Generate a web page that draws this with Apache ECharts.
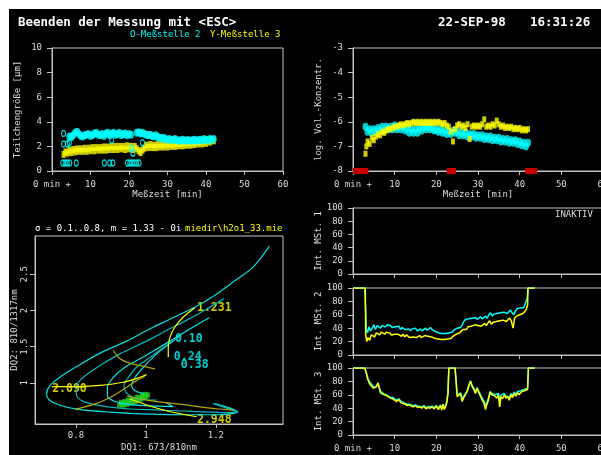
<!DOCTYPE html>
<html><head><meta charset="utf-8">
<script src="https://cdn.jsdelivr.net/npm/echarts@6/dist/echarts.min.js"></script>
<style>
html,body{margin:0;padding:0;background:#fff;}
#c{width:601px;height:455px;background:linear-gradient(#fff,#fff) top left/100% 9px no-repeat,linear-gradient(#fff,#fff) top left/9px 100% no-repeat,#000;}
</style></head><body><div id="c"></div>
<script>
// ---------- data ----------
const timeTicks = [0, 10, 20, 30, 40, 50, 60];
const tlCyan = [[4.5,2.8],[5,2.75],[5.5,2.9],[6,3.1],[6.5,3.2],[7,3.0],[7.5,2.85],[8,2.8],[8.5,2.9],[9,2.95],[9.5,3.0],[10,2.85],[10.5,2.9],[11,3.05],[11.5,3.1],[12,2.95],[12.5,2.9],[13,3.0],[13.5,2.85],[14,3.05],[14.5,3.1],[15,2.9],[15.5,3.05],[16,3.1],[16.5,2.95],[17,3.0],[17.5,3.1],[18,2.9],[18.5,3.0],[19,3.05],[19.5,2.9],[20,3.0],[20.5,2.95],[22,3.1],[22.5,3.15],[23,3.05],[23.5,3.1],[24,3.0],[24.5,2.95],[25,2.9],[25.5,2.95],[26,2.85],[26.5,2.8],[27,2.9],[27.5,2.75],[28,2.7],[28.5,2.65],[29,2.7],[29.5,2.6],[30,2.55],[30.5,2.6],[31,2.5],[31.5,2.55],[32,2.6],[32.5,2.5],[33,2.45],[33.5,2.5],[34,2.55],[34.5,2.45],[35,2.5],[35.5,2.5],[36,2.45],[36.5,2.5],[37,2.55],[37.5,2.45],[38,2.5],[38.5,2.55],[39,2.5],[39.5,2.6],[40,2.55],[40.5,2.5],[41,2.6],[41.5,2.55],[42,2.6]];
const tlCyanIso = [[3,3.05],[3,2.2],[4,2.2],[4.5,2.3],[15.5,2.5],[23.5,2.3],[21,1.45],[20.7,1.85],[2.8,0.65],[3.4,0.65],[4,0.65],[4.6,0.65],[6.3,0.65],[13.6,0.65],[15,0.65],[15.8,0.65],[19.6,0.65],[20.2,0.65],[20.8,0.65],[21.4,0.65],[22,0.65],[22.6,0.65]];
const tlYellow = [[3,1.35],[3.5,1.55],[4,1.45],[4.5,1.7],[5,1.5],[5.5,1.75],[6,1.55],[6.5,1.8],[7,1.6],[7.5,1.8],[8,1.6],[8.5,1.85],[9,1.6],[9.5,1.85],[10,1.65],[10.5,1.9],[11,1.65],[11.5,1.9],[12,1.7],[12.5,1.9],[13,1.7],[13.5,1.95],[14,1.7],[14.5,1.95],[15,1.75],[15.5,2.0],[16,1.75],[16.5,2.0],[17,1.75],[17.5,2.0],[18,1.8],[18.5,2.0],[19,1.75],[19.5,2.05],[20,1.8],[20.5,2.0],[21,1.75],[21.5,2.0],[22,1.8],[22.5,1.65],[23,1.5],[23.5,1.7],[24,1.85],[24.5,2.1],[25,1.9],[25.5,2.15],[26,1.9],[26.5,2.1],[27,1.9],[27.5,2.15],[28,1.95],[28.5,2.15],[29,1.95],[29.5,2.2],[30,1.95],[30.5,2.2],[31,2.0],[31.5,2.2],[32,2.0],[32.5,2.25],[33,2.05],[33.5,2.25],[34,2.05],[34.5,2.3],[35,2.1],[35.5,2.3],[36,2.1],[36.5,2.35],[37,2.15],[37.5,2.35],[38,2.2],[38.5,2.4],[39,2.2],[39.5,2.45],[40,2.25],[40.5,2.5],[41,2.35],[41.5,2.55],[42,2.45]];
const trCyan = [[3,-6.2],[3.5,-6.4],[4,-6.3],[4.5,-6.45],[5,-6.3],[5.5,-6.4],[6,-6.25],[6.5,-6.35],[7,-6.2],[7.5,-6.35],[8,-6.2],[8.5,-6.3],[9,-6.2],[9.5,-6.3],[10,-6.15],[10.5,-6.3],[11,-6.2],[11.5,-6.3],[12,-6.2],[12.5,-6.35],[13,-6.25],[13.5,-6.45],[14,-6.3],[14.5,-6.45],[15,-6.3],[15.5,-6.45],[16,-6.25],[16.5,-6.35],[17,-6.2],[17.5,-6.3],[18,-6.2],[18.5,-6.3],[19,-6.25],[19.5,-6.35],[20,-6.3],[20.5,-6.4],[21,-6.3],[21.5,-6.45],[22,-6.35],[22.5,-6.5],[23,-6.4],[23.5,-6.5],[24,-6.35],[24.5,-6.45],[25,-6.4],[25.5,-6.55],[26,-6.45],[26.5,-6.55],[27,-6.45],[27.5,-6.6],[28,-6.5],[28.5,-6.6],[29,-6.5],[29.5,-6.65],[30,-6.55],[30.5,-6.65],[31,-6.55],[31.5,-6.7],[32,-6.6],[32.5,-6.7],[33,-6.6],[33.5,-6.75],[34,-6.65],[34.5,-6.75],[35,-6.65],[35.5,-6.8],[36,-6.7],[36.5,-6.8],[37,-6.7],[37.5,-6.85],[38,-6.75],[38.5,-6.85],[39,-6.75],[39.5,-6.9],[40,-6.8],[40.5,-6.95],[41,-6.85],[41.5,-7.0],[42,-6.85]];
const trYellow = [[3,-7.3],[3.2,-7.0],[3.5,-6.8],[4,-6.9],[4.5,-6.65],[5,-6.75],[5.5,-6.6],[6,-6.5],[6.5,-6.55],[7,-6.4],[7.5,-6.45],[8,-6.35],[8.5,-6.3],[9,-6.3],[9.5,-6.25],[10,-6.2],[10.5,-6.2],[11,-6.15],[11.5,-6.1],[12,-6.15],[12.5,-6.1],[13,-6.05],[13.5,-6.1],[14,-6.05],[14.5,-6.0],[15,-6.05],[15.5,-6.0],[16,-6.05],[16.5,-6.0],[17,-6.05],[17.5,-6.0],[18,-6.05],[18.5,-6.0],[19,-6.05],[19.5,-6.0],[20,-6.05],[20.5,-6.0],[21,-6.05],[21.5,-6.1],[22,-6.05],[22.5,-6.15],[23,-6.2],[23.5,-6.4],[24,-6.8],[24.5,-6.3],[25,-6.15],[25.5,-6.1],[26,-6.2],[26.5,-6.15],[27,-6.25],[27.5,-6.1],[28,-6.7],[28.5,-6.2],[29,-6.15],[29.5,-6.2],[30,-6.15],[30.5,-6.2],[31,-6.1],[31.5,-5.9],[32,-6.2],[32.5,-6.15],[33,-6.2],[33.5,-6.1],[34,-6.15],[34.5,-5.95],[35,-6.1],[35.5,-6.2],[36,-6.15],[36.5,-6.25],[37,-6.2],[37.5,-6.25],[38,-6.2],[38.5,-6.3],[39,-6.25],[39.5,-6.3],[40,-6.25],[40.5,-6.35],[41,-6.3],[41.5,-6.35],[42,-6.3]];
const redSegments = [[0,3.7],[22.5,24.7],[41.3,44.2]];
const mst2Cyan = [[0,100],[2.8,100],[3.0,72],[3.2,38],[3.5,33],[3.8,42],[4.2,36],[4.6,40],[5,45],[5.4,38],[5.8,44],[6.2,46],[6.6,40],[7,44],[7.4,45],[7.8,42],[8.2,45],[8.6,43],[9,44],[9.4,41],[9.8,43],[10.2,42],[10.6,40],[11,43],[11.4,38],[11.8,41],[12.2,42],[12.6,38],[13,40],[13.4,39],[13.8,36],[14.2,39],[14.6,37],[15,40],[15.4,36],[15.8,38],[16.2,39],[16.6,36],[17,38],[17.4,40],[17.8,37],[18.2,39],[18.6,41],[19,38],[19.4,37],[19.8,35],[20.2,36],[20.6,33],[21,31],[21.4,32],[21.8,30],[22.2,32],[22.6,31],[23,33],[23.4,35],[23.8,34],[24.2,37],[24.6,38],[25,40],[25.4,42],[25.8,41],[26.2,45],[26.6,50],[27,53],[27.4,51],[27.8,54],[28.2,52],[28.6,55],[29,54],[29.4,56],[29.8,53],[30.2,55],[30.6,57],[31,54],[31.4,56],[31.8,58],[32.2,55],[32.6,60],[33,63],[33.4,58],[33.8,61],[34.2,59],[34.6,62],[35,60],[35.4,63],[35.8,61],[36.2,64],[36.6,66],[37,62],[37.4,64],[37.8,67],[38.2,63],[38.6,60],[39,66],[39.4,69],[39.8,68],[40.2,70],[40.6,72],[41,71],[41.4,78],[41.8,85],[42,100],[43.6,100]];
const mst2Yellow = [[0,100],[2.95,100],[3.05,30],[3.3,20],[3.6,26],[4,22],[4.4,30],[4.8,32],[5.2,27],[5.6,33],[6,35],[6.4,30],[6.8,34],[7.2,33],[7.6,31],[8,34],[8.4,32],[8.8,33],[9.2,30],[9.6,32],[10,31],[10.4,29],[10.8,31],[11.2,30],[11.6,28],[12,31],[12.4,27],[12.8,30],[13.2,29],[13.6,26],[14,28],[14.4,27],[14.8,29],[15.2,26],[15.6,28],[16,29],[16.4,26],[16.8,27],[17.2,29],[17.6,27],[18,28],[18.4,30],[18.8,27],[19.2,26],[19.6,25],[20,26],[20.4,24],[20.8,22],[21.2,23],[21.6,21],[22,23],[22.4,22],[22.8,24],[23.2,26],[23.6,25],[24,28],[24.4,29],[24.8,31],[25.2,32],[25.6,33],[26,35],[26.4,38],[26.8,40],[27.2,38],[27.6,42],[28,40],[28.4,43],[28.8,42],[29.2,45],[29.6,43],[30,44],[30.4,46],[30.8,43],[31.2,45],[31.6,47],[32,44],[32.4,48],[32.8,51],[33.2,46],[33.6,49],[34,47],[34.4,50],[34.8,48],[35.2,51],[35.6,49],[36,52],[36.4,54],[36.8,50],[37.2,52],[37.6,55],[38,51],[38.4,40],[38.8,55],[39.2,58],[39.6,57],[40,60],[40.4,61],[40.8,62],[41.2,65],[41.6,68],[41.9,75],[42,100],[43.6,100]];
const mst3Cyan = [[0,100],[2.8,100],[3.2,93],[3.6,84],[4.0,79],[4.4,76],[4.8,73],[5.2,70],[5.6,73],[6.0,76],[6.3,71],[6.6,65],[7.0,63],[7.5,61],[8.0,60],[8.5,58],[9.0,56],[9.5,56],[10,54],[10.5,52],[11,54],[11.5,50],[12,49],[12.5,47],[13,46],[13.5,46],[14,45],[14.5,44],[15,45],[15.5,43],[16,43],[16.5,42],[17,44],[17.5,41],[18,42],[18.5,42],[19,43],[19.5,41],[20,44],[20.5,40],[21,45],[21.3,39],[21.6,46],[21.9,40],[22.2,44],[22.5,50],[22.8,64],[23.0,100],[24.5,100],[24.8,77],[25.0,59],[25.4,57],[25.8,63],[26.2,53],[26.6,58],[27.0,60],[27.4,66],[27.8,74],[28.2,81],[28.6,74],[29.0,70],[29.4,64],[29.8,71],[30.2,65],[30.6,60],[31.0,55],[31.4,51],[31.8,44],[32.1,48],[32.5,55],[32.9,65],[33.3,62],[33.7,64],[34.1,60],[34.5,58],[34.9,62],[35.2,50],[35.5,59],[35.9,57],[36.3,62],[36.7,58],[37.1,60],[37.5,56],[37.9,62],[38.3,59],[38.7,64],[39.1,61],[39.5,65],[39.9,63],[40.3,66],[40.7,65],[41.1,68],[41.5,68],[41.9,70],[42.1,100],[43.6,100]];
const mst3Yellow = [[0,100],[2.8,100],[3.2,92],[3.6,82],[4.0,76],[4.4,74],[4.8,70],[5.2,68],[5.6,72],[6.0,78],[6.3,70],[6.6,63],[7.0,62],[7.5,60],[8.0,59],[8.5,57],[9.0,55],[9.5,54],[10,52],[10.5,50],[11,53],[11.5,48],[12,47],[12.5,46],[13,44],[13.5,45],[14,43],[14.5,42],[15,44],[15.5,41],[16,42],[16.5,40],[17,43],[17.5,39],[18,41],[18.5,40],[19,42],[19.5,39],[20,43],[20.5,38],[21,44],[21.3,37],[21.6,46],[21.9,38],[22.2,42],[22.5,48],[22.8,62],[23.0,100],[24.5,100],[24.8,75],[25.0,57],[25.4,55],[25.8,62],[26.2,50],[26.6,56],[27.0,58],[27.4,65],[27.8,73],[28.2,80],[28.6,72],[29.0,68],[29.4,62],[29.8,70],[30.2,63],[30.6,58],[31.0,52],[31.4,48],[31.8,38],[32.1,45],[32.5,52],[32.9,64],[33.3,60],[33.7,62],[34.1,58],[34.5,55],[34.9,60],[35.2,42],[35.5,57],[35.9,54],[36.3,60],[36.7,55],[37.1,58],[37.5,52],[37.9,60],[38.3,56],[38.7,62],[39.1,58],[39.5,63],[39.9,60],[40.3,64],[40.7,62],[41.1,66],[41.5,65],[41.9,68],[42.1,100],[43.6,100]];
// Mie diagram
const dq1Ticks = [0.8, 1, 1.2];
const dq2Ticks = [1, 1.5, 2, 2.5];
const mieC1 = [[1.353,2.891],[1.307,2.604],[1.250,2.396],[1.193,2.197],[1.145,2.058],[1.078,1.900],[1.012,1.748],[0.945,1.576],[0.869,1.410],[0.802,1.224],[0.754,1.076],[0.726,0.961],[0.716,0.845],[0.723,0.766],[0.750,0.697],[0.802,0.636],[0.897,0.595],[1.012,0.567],[1.116,0.558],[1.202,0.558],[1.263,0.595],[1.250,0.632],[1.197,0.711]];
const mieC2 = [[1.223,2.164],[1.173,2.016],[1.116,1.863],[1.059,1.724],[1.002,1.576],[0.926,1.400],[0.869,1.238],[0.821,1.076],[0.800,0.937],[0.802,0.822],[0.821,0.743],[0.869,0.683],[0.945,0.641],[1.040,0.623],[1.135,0.604],[1.231,0.586],[1.261,0.595],[1.240,0.632],[1.191,0.715]];
const mieC3 = [[1.181,1.900],[1.135,1.771],[1.088,1.632],[1.040,1.493],[0.983,1.331],[0.940,1.215],[0.907,1.076],[0.890,0.937],[0.890,0.822],[0.907,0.752],[0.945,0.706],[1.002,0.683],[1.078,0.669],[1.059,0.724]];
const mieC4 = [[1.102,1.655],[1.059,1.516],[1.012,1.354],[0.973,1.215],[0.950,1.076],[0.937,0.961],[0.943,0.868],[0.964,0.799],[1.002,0.762],[1.031,0.762]];
const mieC5 = [[1.078,1.576],[1.031,1.400],[0.993,1.215],[0.969,1.076],[0.959,0.961],[0.969,0.891],[0.993,0.854]];
const mieY1 = [[1.140,2.039],[1.107,1.910],[1.083,1.771],[1.069,1.632],[1.064,1.493],[1.064,1.354]];
const mieY2 = [[0.907,1.447],[0.921,1.354],[0.945,1.285],[0.983,1.238],[1.026,1.192]];
const mieY3 = [[0.731,0.947],[0.793,0.947],[0.869,0.965],[0.935,1.007],[0.983,1.076],[1.002,1.113]];
const mieY4 = [[0.797,0.632],[0.859,0.715],[0.907,0.822],[0.945,0.937],[0.973,1.030],[0.997,1.086]];
const mieY5 = [[0.954,0.775],[1.050,0.623],[1.145,0.530]];
const mieY6 = [[0.945,0.817],[1.012,0.752],[1.107,0.697],[1.202,0.641],[1.250,0.623]];
const mieGreen = [[0.925,0.69],[0.93,0.71],[0.935,0.69],[0.94,0.72],[0.945,0.70],[0.95,0.73],[0.955,0.75],[0.96,0.72],[0.965,0.76],[0.97,0.74],[0.975,0.77],[0.98,0.79],[0.985,0.77],[0.99,0.80],[0.995,0.82],[1.0,0.80],[1.005,0.83],[0.96,0.77],[0.95,0.76],[0.94,0.74],[0.975,0.80],[0.99,0.83],[0.93,0.73],[1.0,0.84]];
const mieYellowLabels = [['1.231',1.146,2.03],['2.090',0.732,0.92],['2.948',1.146,0.49]];
const mieCyanLabels = [['0.10',1.083,1.60],['0.24',1.080,1.35],['0.38',1.100,1.25]];

// ---------- styles ----------
const F = 'DejaVu Sans Mono';
const AX = '#c4c4c4', LB = '#dcdcdc';
const CY = '#00ffff', YE = '#ffff00';
const lab = {color: LB, fontFamily: F, fontSize: 9};

const grids = [
  {left: 52, top: 48, width: 231, height: 123},
  {left: 353, top: 48, width: 250, height: 123},
  {left: 353, top: 208, width: 250, height: 66},
  {left: 353, top: 288, width: 250, height: 67},
  {left: 353, top: 368, width: 250, height: 67},
  {left: 35, top: 236, width: 248, height: 188}
].map(g => Object.assign({show: true, borderColor: AX, borderWidth: 1, containLabel: false, outerBoundsMode: 'none'}, g));

function timeAxis(gi, labels, name) {
  return {type: 'value', gridIndex: gi, min: 0, max: 60, interval: 10,
    axisLine: {lineStyle: {color: AX}}, axisTick: {show: true, length: 4, lineStyle: {color: AX}},
    splitLine: {show: false},
    axisLabel: Object.assign({show: labels, margin: 9, formatter: v => v === timeTicks[0] ? '0 min +' : String(v)}, lab),
    name: name ? 'Meßzeit [min]' : '', nameLocation: 'middle', nameGap: 19,
    nameTextStyle: {color: LB, fontFamily: F, fontSize: 9}};
}
function valAxis(gi, min, max, interval, name) {
  return {type: 'value', gridIndex: gi, min: min, max: max, interval: interval,
    axisLine: {lineStyle: {color: AX}}, axisTick: {length: 5, lineStyle: {color: AX}},
    splitLine: {show: false},
    axisLabel: Object.assign({margin: 10}, lab),
    name: name, nameLocation: 'middle', nameGap: 30,
    nameTextStyle: {color: LB, fontFamily: F, fontSize: 9}};
}

const xAxes = [timeAxis(0, true, true), timeAxis(1, true, true), timeAxis(2, false, false), timeAxis(3, false, false), timeAxis(4, true, false),
  {type: 'value', gridIndex: 5, min: 0.683, max: 1.392,
   axisLine: {lineStyle: {color: AX}}, axisTick: {length: 4, customValues: dq1Ticks, lineStyle: {color: AX}},
   splitLine: {show: false},
   axisLabel: Object.assign({margin: 7, customValues: dq1Ticks}, lab),
   name: 'DQ1: 673/810nm', nameLocation: 'middle', nameGap: 19, nameTextStyle: {color: LB, fontFamily: F, fontSize: 9}}];
const yAxes = [valAxis(0, 0, 10, 2, 'Teilchengröße [µm]'), valAxis(1, -8, -3, 1, 'log. Vol.-Konzentr.'),
  valAxis(2, 0, 100, 20, 'Int. MSt. 1'), valAxis(3, 0, 100, 20, 'Int. MSt. 2'), valAxis(4, 0, 100, 20, 'Int. MSt. 3'),
  {type: 'value', gridIndex: 5, min: 0.43, max: 3.03,
   axisLine: {lineStyle: {color: AX}}, axisTick: {length: 5, customValues: dq2Ticks, lineStyle: {color: AX}},
   splitLine: {show: false},
   axisLabel: Object.assign({margin: 6, rotate: 90, customValues: dq2Ticks}, lab),
   name: 'DQ2: 810/1317nm', nameLocation: 'middle', nameGap: 14, nameTextStyle: {color: LB, fontFamily: F, fontSize: 9}}];

const ring = (data, xi, color) => ({type: 'scatter', xAxisIndex: xi, yAxisIndex: xi, data: data, symbol: 'circle', symbolSize: [4, 6],
  itemStyle: {color: 'rgba(0,0,0,0)', borderColor: color, borderWidth: 1.3}, silent: true, animation: false});
const blk = (data, xi, color, size, sym) => ({type: 'scatter', xAxisIndex: xi, yAxisIndex: xi, data: data, symbol: sym || 'rect', symbolSize: size,
  itemStyle: {color: color}, silent: true, animation: false});
const ln = (data, xi, color, w, smooth) => ({type: 'line', xAxisIndex: xi, yAxisIndex: xi, data: data, showSymbol: false, symbol: 'none',
  smooth: smooth || false, lineStyle: {color: color, width: w}, silent: true, animation: false});
const txt = (arr, color) => ({type: 'scatter', xAxisIndex: 5, yAxisIndex: 5, symbolSize: 0, silent: true, animation: false,
  data: arr.map(a => ({name: a[0], value: [a[1], a[2]]})),
  label: {show: true, position: 'right', distance: 0, formatter: p => p.name, color: color, fontFamily: F, fontSize: 11.5, fontWeight: 'bold'}});

const series = [
  blk(tlYellow, 0, YE, [4, 7]),
  blk(tlCyan, 0, CY, [6, 8], 'circle'), ring(tlCyanIso, 0, CY),
  blk(trCyan, 1, CY, [6, 8], 'circle'),
  blk(trYellow, 1, YE, [4, 6]),
  {type: 'custom', xAxisIndex: 1, yAxisIndex: 1, clip: false, silent: true, animation: false, data: redSegments,
   renderItem: (params, api) => {
     const a = api.coord([api.value(0), -8]), b = api.coord([api.value(1), -8]);
     return {type: 'rect', shape: {x: a[0], y: a[1] - 3, width: b[0] - a[0], height: 6}, style: {fill: '#c80000'}};
   }},
  ln(mst2Cyan, 3, CY, 1.5), ln(mst2Yellow, 3, YE, 1.5),
  ln(mst3Cyan, 4, CY, 1.5), ln(mst3Yellow, 4, YE, 1.5),
  ln(mieC1, 5, '#00e0e0', 1.2, 0.3), ln(mieC2, 5, '#00b8b8', 1.2, 0.3), ln(mieC3, 5, '#00e8e8', 1.2, 0.3),
  ln(mieC4, 5, '#00b8b8', 1.2, 0.3), ln(mieC5, 5, '#00e0e0', 1.2, 0.3),
  ln(mieY1, 5, YE, 1.2, 0.3), ln(mieY2, 5, '#b0a800', 1.2, 0.3), ln(mieY3, 5, YE, 1.2, 0.3),
  ln(mieY4, 5, '#b0a800', 1.2, 0.3), ln(mieY5, 5, YE, 1.2, 0.3), ln(mieY6, 5, '#b0a800', 1.2, 0.3),
  blk(mieGreen, 5, '#22cc22', [5, 5]),
  txt(mieYellowLabels, YE), txt(mieCyanLabels, CY)
];

const gt = (x, y, text, color, font) => ({type: 'text', x: x, y: y, silent: true,
  style: {text: text, fill: color, font: font, verticalAlign: 'middle', align: 'left'}});
const graphic = [
  gt(18, 23, 'Beenden der Messung mit <ESC>', '#ffffff', 'bold 12.5px "DejaVu Sans Mono"'),
  gt(130, 35, 'O-Meßstelle 2', CY, '9px "DejaVu Sans Mono"'),
  gt(210, 35, 'Y-Meßstelle 3', YE, '9px "DejaVu Sans Mono"'),
  gt(438, 23, '22-SEP-98', '#ffffff', 'bold 12.5px "DejaVu Sans Mono"'),
  gt(530, 23, '16:31:26', '#ffffff', 'bold 12.5px "DejaVu Sans Mono"'),
  gt(35, 229, 'σ = 0.1..0.8, m = 1.33 - 0i', '#ffffff', '9px "DejaVu Sans Mono"'),
  gt(185, 229, 'miedir\\h2o1_33.mie', YE, '9px "DejaVu Sans Mono"'),
  gt(555, 215, 'INAKTIV', LB, '9px "DejaVu Sans Mono"')
];

const chart = echarts.init(document.getElementById('c'), null, {renderer: 'canvas'});
chart.setOption({animation: false, backgroundColor: 'transparent', grid: grids, xAxis: xAxes, yAxis: yAxes, series: series, graphic: graphic});
</script></body></html>
